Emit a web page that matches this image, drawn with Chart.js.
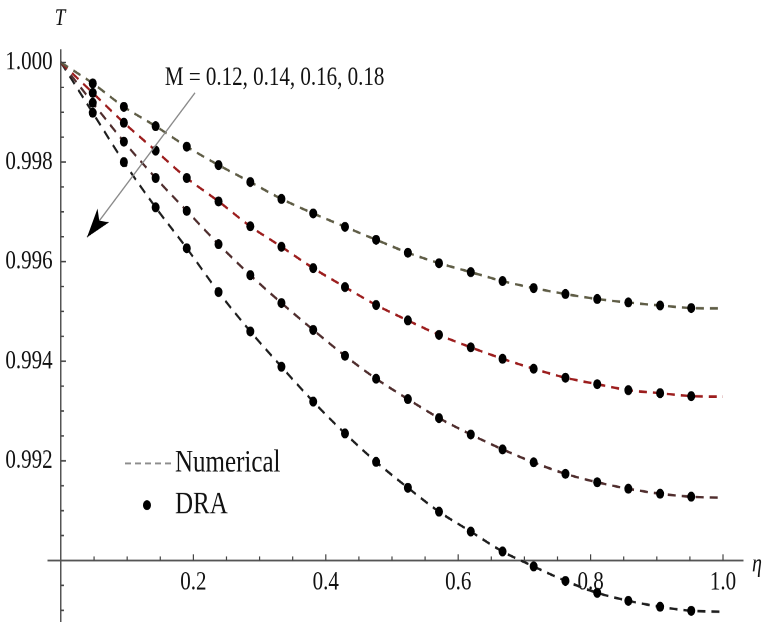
<!DOCTYPE html>
<html>
<head>
<meta charset="utf-8">
<script src="https://cdn.jsdelivr.net/npm/chart.js@4.4.0/dist/chart.umd.min.js"></script>
<style>
  html, body { margin: 0; padding: 0; background: #fff; overflow: hidden; }
  #frame { width: 763px; height: 622px; overflow: hidden; position: relative; }
  /* the source figure is stretched vertically, so the canvas is too.
     the canvas is a bit taller than the frame: the y axis keeps half a label of room below the plot */
  #wrap { position: absolute; left: 0; top: 0; width: 763px; height: 511px;
          transform: scale(1, 1.249); transform-origin: 0 0; }
</style>
</head>
<body>
<div id="frame"><div id="wrap"><canvas id="chart" width="763" height="511" style="width:763px;height:511px"></canvas></div></div>
<script>
// eta positions of the DRA dots
const eta = [0.048, 0.095, 0.143, 0.190, 0.238, 0.286, 0.333, 0.381, 0.429, 0.476,
             0.524, 0.571, 0.619, 0.667, 0.714, 0.762, 0.810, 0.857, 0.905, 0.952];

// T at each dot, one list per M
const tM012 = [0.99958, 0.99911, 0.99872, 0.99831, 0.99794, 0.99760, 0.99726, 0.99697, 0.99670, 0.99644,
               0.99618, 0.99597, 0.99579, 0.99561, 0.99547, 0.99535, 0.99525, 0.99518, 0.99512, 0.99507];
const tM014 = [0.99939, 0.99879, 0.99823, 0.99768, 0.99721, 0.99671, 0.99630, 0.99587, 0.99549, 0.99513,
               0.99482, 0.99453, 0.99428, 0.99405, 0.99385, 0.99367, 0.99354, 0.99342, 0.99336, 0.99330];
const tM016 = [0.99919, 0.99841, 0.99768, 0.99702, 0.99635, 0.99573, 0.99517, 0.99463, 0.99411, 0.99365,
               0.99324, 0.99286, 0.99253, 0.99223, 0.99197, 0.99174, 0.99157, 0.99144, 0.99134, 0.99128];
const tM018 = [0.99899, 0.99800, 0.99709, 0.99627, 0.99539, 0.99460, 0.99389, 0.99319, 0.99255, 0.99198,
               0.99146, 0.99098, 0.99058, 0.99018, 0.98988, 0.98959, 0.98935, 0.98919, 0.98907, 0.98899];

// numerical curves run from eta = 0 to eta = 1
const etaStart = 0;
const etaEnd = 1.0;
const tStart = 1.000;
const tEnd = [0.99506, 0.99329, 0.99126, 0.98897];

const xMajorTicks = [0.2, 0.4, 0.6, 0.8, 1.0];
const xMinorTicks = [0.05, 0.10, 0.15, 0.25, 0.30, 0.35, 0.45, 0.50, 0.55, 0.65, 0.70, 0.75, 0.85, 0.90, 0.95];
const yMajorTicks = [0.992, 0.994, 0.996, 0.998, 1.000];
const yMinorTicks = [0.9890, 0.9895, 0.9905, 0.9910, 0.9915, 0.9925, 0.9930, 0.9935, 0.9945, 0.9950,
                     0.9955, 0.9965, 0.9970, 0.9975, 0.9985, 0.9990, 0.9995];

const labelM = 'M = 0.12, 0.14, 0.16, 0.18';
const curves = [tM012, tM014, tM016, tM018];
const lineColors = ['#5f5d46', '#9c1d1d', '#4f2d2d', '#1e1e1e'];

const serif = '"Liberation Serif", "Times New Roman", serif';

const lineSets = curves.map((vals, i) => {
  const xs = [etaStart].concat(eta, [etaEnd]);
  const ys = [tStart].concat(vals, [tEnd[i]]);
  return {
    type: 'line',
    label: 'Numerical',
    data: xs.map((x, j) => ({ x: x, y: ys[j] })),
    borderColor: lineColors[i],
    borderWidth: 2,
    borderDash: [8, 6],
    pointRadius: 0,
    cubicInterpolationMode: 'monotone',
    fill: false,
    order: 2
  };
});

const dotSets = curves.map(vals => ({
  type: 'scatter',
  label: 'DRA',
  data: eta.map((x, j) => ({ x: x, y: vals[j] })),
  backgroundColor: '#000',
  borderWidth: 0,
  pointRadius: 4,
  order: 1
}));

// tick marks, arrow, text and legend
const extras = {
  id: 'extras',
  afterDraw(chart) {
    const { ctx, chartArea, scales: { x, y } } = chart;
    const x0 = x.getPixelForValue(0);
    const y0 = y.getPixelForValue(0.990);
    ctx.save();

    ctx.strokeStyle = '#444';
    ctx.lineWidth = 1.2;
    ctx.beginPath();
    xMajorTicks.forEach(v => { const p = x.getPixelForValue(v); ctx.moveTo(p, y0); ctx.lineTo(p, y0 - 5); });
    xMinorTicks.forEach(v => { const p = x.getPixelForValue(v); ctx.moveTo(p, y0); ctx.lineTo(p, y0 - 3.2); });
    yMajorTicks.forEach(v => { const p = y.getPixelForValue(v); ctx.moveTo(x0, p); ctx.lineTo(x0 + 5, p); });
    yMinorTicks.forEach(v => { const p = y.getPixelForValue(v); ctx.moveTo(x0, p); ctx.lineTo(x0 + 3, p); });
    ctx.stroke();

    // arrow across the curves
    const ax1 = x.getPixelForValue(0.2024), ay1 = y.getPixelForValue(0.99939);
    const ax2 = x.getPixelForValue(0.0393), ay2 = y.getPixelForValue(0.99649);
    ctx.strokeStyle = '#8a8a8a';
    ctx.lineWidth = 1.2;
    ctx.beginPath();
    ctx.moveTo(ax1, ay1);
    ctx.lineTo(ax2, ay2);
    ctx.stroke();
    const ang = Math.atan2(ay2 - ay1, ax2 - ax1);
    const hl = 24, hw = 8;
    const bx = ax2 - hl * Math.cos(ang), by = ay2 - hl * Math.sin(ang);
    const nx = ax2 - hl * 0.75 * Math.cos(ang), ny = ay2 - hl * 0.75 * Math.sin(ang);
    ctx.fillStyle = '#000';
    ctx.beginPath();
    ctx.moveTo(ax2, ay2);
    ctx.lineTo(bx + hw * Math.sin(ang), by - hw * Math.cos(ang));
    ctx.lineTo(nx, ny);
    ctx.lineTo(bx - hw * Math.sin(ang), by + hw * Math.cos(ang));
    ctx.closePath();
    ctx.fill();

    ctx.fillStyle = '#111';
    ctx.textBaseline = 'middle';
    ctx.textAlign = 'left';
    ctx.font = '21px ' + serif;
    ctx.fillText(labelM, x.getPixelForValue(0.157), y.getPixelForValue(0.99969));

    // legend
    const lx1 = x.getPixelForValue(0.0967), lx2 = x.getPixelForValue(0.1677);
    const ly1 = y.getPixelForValue(0.99195), ly2 = y.getPixelForValue(0.99111);
    ctx.strokeStyle = '#8c8c8c';
    ctx.lineWidth = 1.5;
    ctx.setLineDash([6, 4]);
    ctx.beginPath();
    ctx.moveTo(lx1, ly1);
    ctx.lineTo(lx2, ly1);
    ctx.stroke();
    ctx.setLineDash([]);
    ctx.fillStyle = '#000';
    ctx.beginPath();
    ctx.arc(x.getPixelForValue(0.1299), ly2, 4, 0, Math.PI * 2);
    ctx.fill();
    ctx.fillStyle = '#111';
    ctx.font = '25px ' + serif;
    ctx.fillText('Numerical', x.getPixelForValue(0.1722), ly1);
    ctx.fillText('DRA', x.getPixelForValue(0.1722), ly2);

    // axis names
    ctx.font = 'italic 19px ' + serif;
    ctx.textBaseline = 'alphabetic';
    ctx.textAlign = 'center';
    ctx.fillText('T', x0 - 1, chartArea.top - 20);
    ctx.textAlign = 'left';
    ctx.font = 'italic 20px ' + serif;
    ctx.fillText('η', chartArea.right + 9, y0 + 8.8);

    ctx.restore();
  }
};

new Chart(document.getElementById('chart'), {
  data: { datasets: lineSets.concat(dotSets) },
  options: {
    responsive: false,
    devicePixelRatio: 2,
    animation: false,
    events: [],
    layout: { padding: { left: 48, right: 20, top: 40, bottom: 0 } },
    plugins: { legend: { display: false }, tooltip: { enabled: false } },
    scales: {
      x: {
        type: 'linear',
        min: -0.0196,
        max: 1.0302,
        position: { y: 0.990 },
        grid: { display: false, drawTicks: false },
        border: { display: true, color: '#555', width: 1.5 },
        afterBuildTicks: s => { s.ticks = xMajorTicks.map(v => ({ value: v })); },
        ticks: {
          autoSkip: false, maxRotation: 0, padding: 5, color: '#111',
          font: { family: serif, size: 21 },
          callback: v => Number(v).toFixed(1)
        }
      },
      y: {
        type: 'linear',
        min: 0.988754,
        max: 1.000251,
        position: { x: 0 },
        grid: { display: false, drawTicks: false },
        border: { display: true, color: '#555', width: 1.5 },
        afterBuildTicks: s => { s.ticks = yMajorTicks.map(v => ({ value: v })); },
        ticks: {
          autoSkip: false, padding: 0, color: '#111',
          font: { family: serif, size: 21 },
          // labels sit right on the axis when it is placed by value, so pad with thin spaces
          callback: v => Number(v).toFixed(3) + '\u2009\u2009'
        }
      }
    }
  },
  plugins: [extras]
});
</script>
</body>
</html>
